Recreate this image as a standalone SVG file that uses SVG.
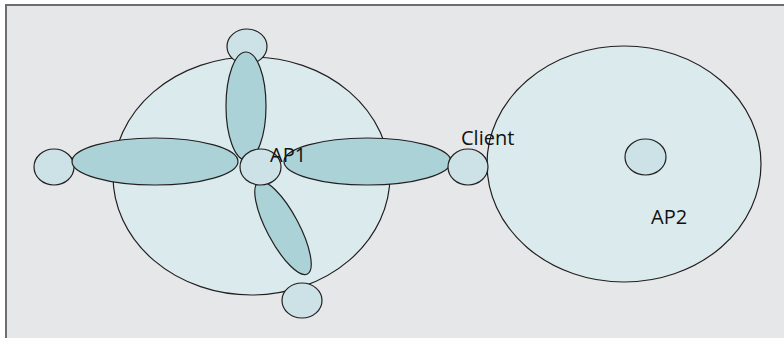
<svg xmlns="http://www.w3.org/2000/svg" width="784" height="338" viewBox="0 0 784 338">
<style>
.frame{fill:#e6e7e8;stroke:#6d6e71;stroke-width:2}
.cell{fill:#dbebed;stroke:#231f20;stroke-width:1.2}
.lobe{fill:#abd2d7;stroke:#231f20;stroke-width:1.2}
.dev{fill:#cde2e6;stroke:#231f20;stroke-width:1.2}
.lbl{font-family:"Open Sans","Liberation Sans",Arial,sans-serif;font-size:20px;fill:#111}
</style>
<rect class="frame" x="6" y="5" width="790" height="345"/>
<g id="ap1-cell"><ellipse class="cell" cx="251.5" cy="176" rx="138.5" ry="119"/></g>
<g id="ap2-cell"><ellipse class="cell" cx="624" cy="164" rx="137" ry="118"/></g>
<g id="top-client"><ellipse class="dev" cx="247" cy="46.5" rx="20" ry="17.5"/></g>
<g id="bottom-client"><ellipse class="dev" cx="302" cy="300.5" rx="20" ry="17.5"/></g>
<g id="left-client"><ellipse class="dev" cx="54" cy="167" rx="20" ry="18"/></g>
<g id="connectors">
<ellipse class="lobe" cx="246" cy="106" rx="20" ry="54"/>
<ellipse class="lobe" cx="155" cy="161.5" rx="83" ry="23.5"/>
<ellipse class="lobe" cx="367.5" cy="161.5" rx="83.5" ry="23.5"/>
<ellipse class="lobe" cx="0" cy="0" rx="52" ry="16" transform="translate(283 228) rotate(62)"/>
</g>
<g id="client"><ellipse class="dev" cx="468" cy="167" rx="20" ry="18"/><text class="lbl" x="461" y="145">Client</text></g>
<g id="ap1"><ellipse class="dev" cx="260.5" cy="167" rx="20.5" ry="18"/><text class="lbl" x="270" y="162">AP1</text></g>
<g id="ap2"><ellipse class="dev" cx="645.5" cy="157" rx="20.5" ry="18"/><text class="lbl" x="651" y="224">AP2</text></g>
</svg>
